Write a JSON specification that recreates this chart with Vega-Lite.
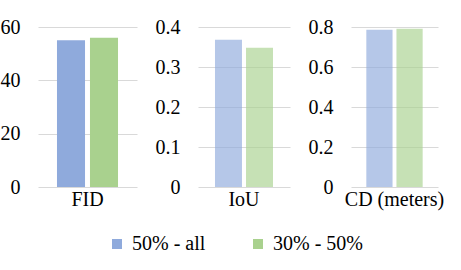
{
  "$schema": "https://vega.github.io/schema/vega-lite/v6.json",
  "padding": {"left": 0, "top": 17, "right": 0, "bottom": 0},
  "background": "white",
  "data": {"values": [
    {"metric": "FID", "series": "50% - all", "value": 55},
    {"metric": "FID", "series": "30% - 50%", "value": 56},
    {"metric": "IoU", "series": "50% - all", "value": 0.368},
    {"metric": "IoU", "series": "30% - 50%", "value": 0.348},
    {"metric": "CD (meters)", "series": "50% - all", "value": 0.786},
    {"metric": "CD (meters)", "series": "30% - 50%", "value": 0.791}
  ]},
  "config": {
    "font": "Liberation Serif",
    "view": {"stroke": null},
    "axis": {
      "labelFont": "Liberation Serif", "labelFontSize": 20, "labelColor": "#000000",
      "domain": false, "ticks": false, "gridColor": "#D9D9D9", "gridWidth": 1
    },
    "axisY": {"labelFont": "Liberation Serif"},
    "legend": {"labelFont": "Liberation Serif"},
    "concat": {"spacing": 18}
  },
  "hconcat": [
    {
      "width": 99, "height": 160,
      "transform": [{"filter": "datum.metric === 'FID'"}],
      "mark": {"type": "bar"},
      "encoding": {
        "x": {"field": "metric", "type": "nominal", "title": null,
              "scale": {"paddingInner": 0, "paddingOuter": 0.311},
              "axis": {"labelAngle": 0, "labelPadding": 2, "grid": false, "labelFont": "Liberation Serif"}},
        "xOffset": {"field": "series", "type": "nominal", "sort": ["50% - all", "30% - 50%"],
                    "scale": {"paddingInner": 0.15, "paddingOuter": 0}},
        "y": {"field": "value", "type": "quantitative", "title": null,
              "scale": {"domain": [0, 60], "nice": false},
              "axis": {"values": [0, 20, 40, 60], "labelPadding": 18, "labelExpr": "datum.value + ''", "labelFont": "Liberation Serif"}},
        "color": {"field": "series", "type": "nominal", "sort": ["50% - all", "30% - 50%"],
                  "scale": {"domain": ["50% - all", "30% - 50%"], "range": ["#8FAADC", "#A9D18E"]},
                  "legend": {"title": null, "orient": "none", "direction": "horizontal",
                             "legendX": 69, "legendY": 207, "symbolType": "square", "symbolSize": 100,
                             "symbolStrokeWidth": 0, "symbolOpacity": 1, "labelFontSize": 20,
                             "labelFont": "Liberation Serif",
                             "labelColor": "#000000", "labelOffset": 5, "columnPadding": 42,
                             "encode": {"symbols": {"update": {"opacity": {"value": 1}, "fillOpacity": {"value": 1}}}}}}
      }
    },
    {
      "width": 92, "height": 160,
      "transform": [{"filter": "datum.metric === 'IoU'"}],
      "mark": {"type": "bar", "opacity": 0.66},
      "encoding": {
        "x": {"field": "metric", "type": "nominal", "title": null,
              "scale": {"paddingInner": 0, "paddingOuter": 0.293},
              "axis": {"labelAngle": 0, "labelPadding": 2, "grid": false, "labelFont": "Liberation Serif"}},
        "xOffset": {"field": "series", "type": "nominal", "sort": ["50% - all", "30% - 50%"],
                    "scale": {"paddingInner": 0.13, "paddingOuter": 0}},
        "y": {"field": "value", "type": "quantitative", "title": null,
              "scale": {"domain": [0, 0.4], "nice": false},
              "axis": {"values": [0, 0.1, 0.2, 0.3, 0.4], "labelPadding": 18, "labelExpr": "datum.value + ''", "labelFont": "Liberation Serif"}},
        "color": {"field": "series", "type": "nominal", "sort": ["50% - all", "30% - 50%"], "legend": null}
      }
    },
    {
      "width": 87, "height": 160,
      "transform": [{"filter": "datum.metric === 'CD (meters)'"}],
      "mark": {"type": "bar", "opacity": 0.66},
      "encoding": {
        "x": {"field": "metric", "type": "nominal", "title": null,
              "scale": {"paddingInner": 0, "paddingOuter": 0.272},
              "axis": {"labelAngle": 0, "labelPadding": 2, "grid": false, "labelFont": "Liberation Serif"}},
        "xOffset": {"field": "series", "type": "nominal", "sort": ["50% - all", "30% - 50%"],
                    "scale": {"paddingInner": 0.13, "paddingOuter": 0}},
        "y": {"field": "value", "type": "quantitative", "title": null,
              "scale": {"domain": [0, 0.8], "nice": false},
              "axis": {"values": [0, 0.2, 0.4, 0.6, 0.8], "labelPadding": 18, "labelExpr": "datum.value + ''", "labelFont": "Liberation Serif"}},
        "color": {"field": "series", "type": "nominal", "sort": ["50% - all", "30% - 50%"], "legend": null}
      }
    }
  ],
  "resolve": {"scale": {"y": "independent", "x": "independent", "xOffset": "independent", "color": "shared"}}
}
